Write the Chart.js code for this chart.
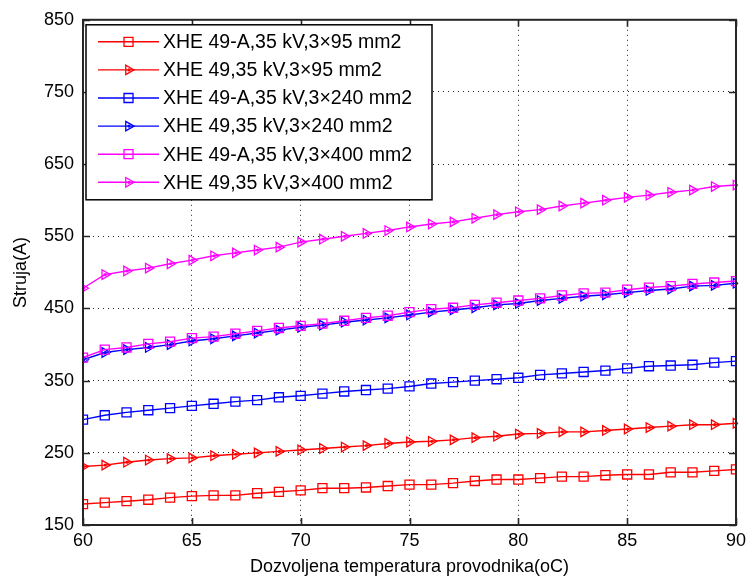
<!DOCTYPE html>
<html>
<head>
<meta charset="utf-8">
<script src="https://cdn.jsdelivr.net/npm/chart.js@4/dist/chart.umd.min.js"></script>
<style>
html,body{margin:0;padding:0;background:#fff;}
canvas{display:block;}
</style>
</head>
<body>
<canvas id="c" width="753" height="578"></canvas>
<script>
const temps = [60,61,62,63,64,65,66,67,68,69,70,71,72,73,74,75,76,77,78,79,80,81,82,83,84,85,86,87,88,89,90];
const xTicks = [60,65,70,75,80,85,90];
const yTicks = [150,250,350,450,550,650,750,850];
const seriesNames = [
  'XHE 49-A,35 kV,3\u00d795 mm2',
  'XHE 49,35 kV,3\u00d795 mm2',
  'XHE 49-A,35 kV,3\u00d7240 mm2',
  'XHE 49,35 kV,3\u00d7240 mm2',
  'XHE 49-A,35 kV,3\u00d7400 mm2',
  'XHE 49,35 kV,3\u00d7400 mm2'
];
const xhe49A_95  = [179,181,183,185,188,190,191,191,194,196,198,201,201,202,204,206,206,208,211,213,213,215,217,217,219,220,220,223,223,225,227];
const xhe49_95   = [231,233,237,240,242,243,246,248,250,252,254,256,258,260,263,265,266,268,271,273,276,277,279,279,281,283,285,287,289,289,291];
const xhe49A_240 = [296,302,306,309,312,315,318,321,323,327,329,332,335,337,339,342,346,348,350,352,354,358,360,362,364,367,370,371,372,375,377];
const xhe49_240  = [379,389,393,396,400,405,408,412,416,420,424,427,431,434,437,441,445,448,451,455,457,461,464,467,469,472,475,477,481,482,485];
const xhe49A_400 = [382,393,396,401,404,409,411,415,419,423,426,429,433,437,440,445,449,451,455,458,461,464,468,471,472,476,479,481,484,486,488];
const xhe49_400  = [478,497,502,506,512,517,523,527,531,535,542,546,550,554,558,563,567,570,575,580,584,587,592,596,600,604,607,611,614,619,621];

const allSeries = [xhe49A_95, xhe49_95, xhe49A_240, xhe49_240, xhe49A_400, xhe49_400];
const colors = ['#ff0000','#ff0000','#0000ff','#0000ff','#ff00ff','#ff00ff'];
const markers = ['rect','triangle','rect','triangle','rect','triangle'];

const FONT = '"Liberation Sans", Arial, Helvetica, sans-serif';

const datasets = allSeries.map((arr, i) => ({
  label: seriesNames[i],
  data: temps.map((t, k) => ({x: t, y: arr[k]})),
  borderColor: colors[i],
  backgroundColor: 'rgba(0,0,0,0)',
  pointBorderColor: colors[i],
  pointBackgroundColor: 'rgba(0,0,0,0)',
  pointStyle: markers[i],
  pointRotation: markers[i] === 'triangle' ? 90 : 0,
  pointRadius: markers[i] === 'triangle' ? 5.5 : 6.4,
  pointBorderWidth: 1.3,
  borderWidth: 1.4,
  tension: 0,
  order: 5 - i
}));

function drawMarker(ctx, style, x, y, color) {
  ctx.save();
  ctx.strokeStyle = color;
  ctx.fillStyle = color;
  ctx.lineWidth = 1.3;
  ctx.beginPath();
  if (style === 'rect') {
    const s = 4.5;
    ctx.rect(x - s, y - s, 2 * s, 2 * s);
    ctx.stroke();
  } else {
    const r = 5.5;
    for (let k = 0; k < 3; k++) {
      const a = k * 2 * Math.PI / 3;
      const px = x + r * Math.cos(a), py = y + r * Math.sin(a);
      if (k === 0) ctx.moveTo(px, py); else ctx.lineTo(px, py);
    }
    ctx.closePath();
    ctx.stroke();
    ctx.beginPath();
    ctx.arc(x + 0.5, y, 1.6, 0, 2 * Math.PI);
    ctx.fill();
  }
  ctx.restore();
}

const framePlugin = {
  id: 'frame',
  beforeDraw(chart) {
    const ctx = chart.ctx;
    ctx.save();
    ctx.fillStyle = '#fff';
    ctx.fillRect(0, 0, chart.width, chart.height);
    ctx.restore();
  },
  afterDatasetsDraw(chart) {
    // small centre dots of the triangle markers
    const ctx = chart.ctx;
    ctx.save();
    chart.data.datasets.forEach((ds, i) => {
      if (markers[i] !== 'triangle') return;
      ctx.fillStyle = colors[i];
      chart.getDatasetMeta(i).data.forEach(pt => {
        ctx.beginPath();
        ctx.arc(pt.x + 0.5, pt.y, 1.6, 0, 2 * Math.PI);
        ctx.fill();
      });
    });
    ctx.restore();
  },
  afterDraw(chart) {
    const ctx = chart.ctx;
    const a = chart.chartArea;
    const xs = chart.scales.x, ys = chart.scales.y;
    ctx.save();
    ctx.strokeStyle = '#262626';
    ctx.lineWidth = 1.6;
    ctx.beginPath();
    xTicks.forEach(v => {
      const px = Math.round(xs.getPixelForValue(v)) + 0.5;
      ctx.moveTo(px, a.bottom); ctx.lineTo(px, a.bottom - 7);
      ctx.moveTo(px, a.top); ctx.lineTo(px, a.top + 7);
    });
    yTicks.forEach(v => {
      const py = Math.round(ys.getPixelForValue(v)) + 0.5;
      ctx.moveTo(a.left, py); ctx.lineTo(a.left + 7, py);
      ctx.moveTo(a.right, py); ctx.lineTo(a.right - 7, py);
    });
    ctx.stroke();
    ctx.lineWidth = 2;
    ctx.strokeRect(a.left, a.top, a.right - a.left, a.bottom - a.top);

    // legend
    const bx = a.left + 3, by = a.top + 5, bw = 346, bh = 175;
    ctx.fillStyle = '#fff';
    ctx.fillRect(bx, by, bw, bh);
    ctx.strokeStyle = '#000';
    ctx.lineWidth = 1.5;
    ctx.strokeRect(bx, by, bw, bh);
    ctx.font = '19.5px ' + FONT;
    ctx.textBaseline = 'middle';
    ctx.textAlign = 'left';
    seriesNames.forEach((name, i) => {
      const ry = by + 17 + i * 28.1;
      ctx.strokeStyle = colors[i];
      ctx.lineWidth = 1.4;
      ctx.beginPath();
      ctx.moveTo(bx + 12, ry); ctx.lineTo(bx + 73, ry);
      ctx.stroke();
      drawMarker(ctx, markers[i], bx + 42.5, ry, colors[i]);
      ctx.fillStyle = '#000';
      ctx.fillText(name, bx + 77, ry + 1);
    });
    ctx.restore();
  }
};

new Chart(document.getElementById('c'), {
  type: 'line',
  data: { datasets },
  options: {
    responsive: false,
    devicePixelRatio: 1,
    animation: false,
    events: [],
    layout: { padding: { left: 0, right: 17, top: 16, bottom: 0 } },
    plugins: { legend: { display: false }, tooltip: { enabled: false } },
    scales: {
      x: {
        type: 'linear',
        min: 60, max: 90,
        afterBuildTicks: s => { s.ticks = xTicks.map(v => ({value: v})); },
        afterFit: s => { s.height = 53; },
        ticks: { padding: 5, color: '#000', font: { family: FONT, size: 18 }, maxRotation: 0 },
        grid: { color: '#222', lineWidth: 1, drawTicks: false },
        border: { display: false, dash: [1, 4] },
        title: { display: true, text: 'Dozvoljena temperatura provodnika(oC)', color: '#000',
                 font: { family: FONT, size: 18 }, padding: { top: 0, bottom: 0 } }
      },
      y: {
        type: 'linear',
        min: 150, max: 850,
        afterBuildTicks: s => { s.ticks = yTicks.map(v => ({value: v})); },
        afterFit: s => { s.width = 83; },
        ticks: { padding: 9, color: '#000', font: { family: FONT, size: 18 } },
        grid: { color: '#222', lineWidth: 1, drawTicks: false },
        border: { display: false, dash: [1, 4] },
        title: { display: true, text: 'Struja(A)', color: '#000',
                 font: { family: FONT, size: 18 }, padding: { top: 10, bottom: 0 } }
      }
    }
  },
  plugins: [framePlugin]
});
</script>
</body>
</html>
